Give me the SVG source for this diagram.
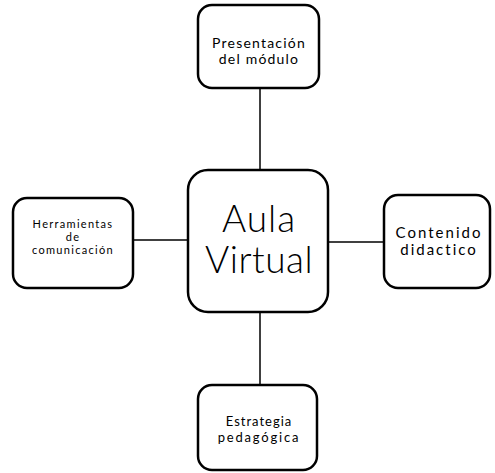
<svg xmlns="http://www.w3.org/2000/svg" width="495" height="473" viewBox="0 0 495 473">
<style>
.box{fill:#fff;stroke:#000;stroke-width:2.5}
.ln{stroke:#000;stroke-width:1.5;fill:none}
text{font-family:"Lato","Open Sans","DejaVu Sans",sans-serif;font-weight:400;text-anchor:middle;fill:#000}
.big{font-weight:300}
</style>
<rect width="495" height="473" fill="#fff"/>
<g id="connectors">
<line class="ln" x1="260" y1="88" x2="260" y2="170"/>
<line class="ln" x1="260" y1="312" x2="260" y2="385"/>
<line class="ln" x1="133" y1="240" x2="188" y2="240"/>
<line class="ln" x1="328" y1="242" x2="384" y2="242"/>
</g>
<g id="aula">
<rect class="box" x="188" y="170" width="140" height="142" rx="20"/>
<text class="big" x="259" y="232" font-size="37" letter-spacing="1">Aula</text>
<text class="big" x="259" y="273" font-size="37" letter-spacing="0.5">Virtual</text>
</g>
<g id="presentacion">
<rect class="box" x="198" y="5" width="121" height="83" rx="14"/>
<text x="259" y="48" font-size="14" letter-spacing="1.2">Presentación</text>
<text x="259" y="64" font-size="14" letter-spacing="1.2">del módulo</text>
</g>
<g id="herramientas">
<rect class="box" x="13" y="198" width="120" height="90" rx="14"/>
<text x="73" y="228" font-size="11" letter-spacing="1.3">Herramientas</text>
<text x="73" y="241" font-size="11" letter-spacing="1.3">de</text>
<text x="73" y="254" font-size="11" letter-spacing="1.3">comunicación</text>
</g>
<g id="contenido">
<rect class="box" x="384" y="195" width="106" height="93" rx="14"/>
<text x="439" y="238" font-size="15" letter-spacing="2">Contenido</text>
<text x="439" y="255" font-size="15" letter-spacing="2">didactico</text>
</g>
<g id="estrategia">
<rect class="box" x="198" y="385" width="119" height="85" rx="14"/>
<text x="259" y="426" font-size="13" letter-spacing="1">Estrategia</text>
<text x="259" y="442" font-size="13" letter-spacing="1.8">pedagógica</text>
</g>
</svg>
